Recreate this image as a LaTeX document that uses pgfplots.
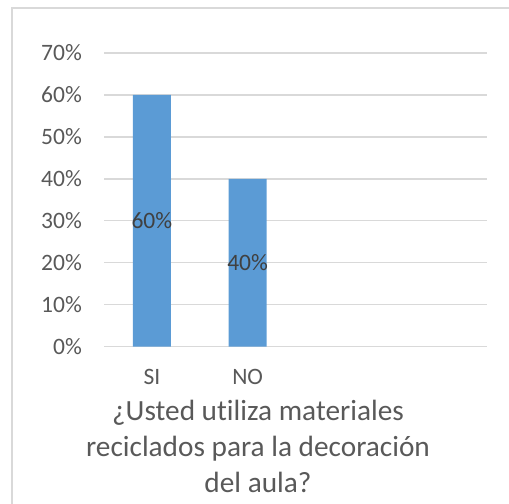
\documentclass[border=0pt]{standalone}
\usepackage{fontspec}
\setmainfont{Carlito}[Ligatures=NoCommon]
\usepackage{pgfplots}
\pgfplotsset{compat=1.18}
\definecolor{barblue}{HTML}{5B9BD5}
\definecolor{gridgray}{HTML}{D9D9D9}
\definecolor{txtgray}{HTML}{595959}
\definecolor{lblgray}{HTML}{404040}

\begin{document}
\begin{tikzpicture}[x=1bp,y=1bp]
% page = 509 x 504, origin at the plot's lower left corner
\clip (-104,346.7) rectangle (405,-157.3);
\draw[gridgray, line width=1.3bp] (-92,338.7) rectangle (430,-180);
\begin{axis}[
    at={(0,0)}, anchor=south west,
    scale only axis,
    width=383bp, height=293.7bp,
    xmin=-0.5, xmax=3.5,
    ymin=0, ymax=70,
    axis line style={draw=none},
    ymajorgrids,
    grid style={gridgray, line width=1.3bp},
    major tick length=0pt,
    xtick={0,1},
    xticklabels={SI,NO},
    ytick={0,10,...,70},
    yticklabels={0\%,10\%,20\%,30\%,40\%,50\%,60\%,70\%},
    tick label style={font=\fontsize{23.5bp}{28bp}\selectfont, text=txtgray},
    yticklabel style={anchor=east, inner sep=0pt, xshift=-22bp},
    xticklabel style={anchor=base, inner sep=0pt, yshift=-38.3bp},
    ybar,
    bar width=38bp,
    nodes near coords={\pgfmathprintnumber[assume math mode=true]{\pgfplotspointmeta}\%},
    visualization depends on=y \as \rawy,
    every node near coord/.append style={
        anchor=center, inner sep=0pt,
        font=\fontsize{23.5bp}{28bp}\selectfont, text=lblgray,
        shift={(axis direction cs:0,-\rawy/2)}},
]
\addplot[fill=barblue, draw=none] coordinates {(0,60) (1,40)};
\end{axis}
\begin{scope}[font=\fontsize{29.3bp}{36bp}\selectfont, text=txtgray]
\node[anchor=base, inner sep=0pt] at (154,-73.3) {¿Usted utiliza materiales};
\node[anchor=base, inner sep=0pt] at (154,-109.3) {reciclados para la decoración};
\node[anchor=base, inner sep=0pt] at (154,-145.3) {del aula?};
\end{scope}
\end{tikzpicture}
\end{document}
